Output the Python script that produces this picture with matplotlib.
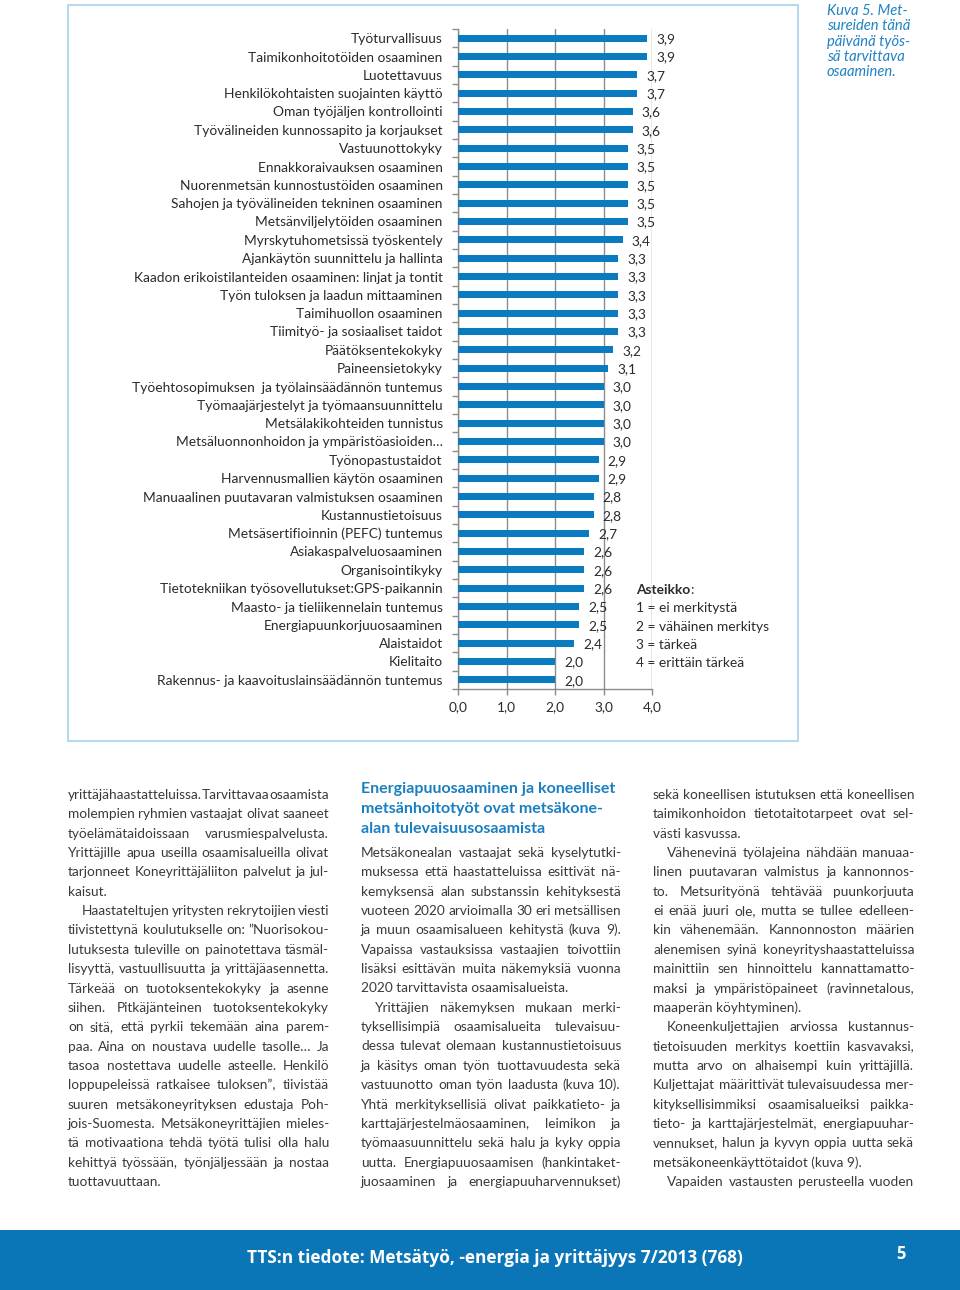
import matplotlib
matplotlib.use("Agg")
import matplotlib.pyplot as plt
from matplotlib.patches import Rectangle

# Chart data (Kuva 5)
skills = [
    "Työturvallisuus",
    "Taimikonhoitotöiden osaaminen",
    "Luotettavuus",
    "Henkilökohtaisten suojainten käyttö",
    "Oman työjäljen kontrollointi",
    "Työvälineiden kunnossapito ja korjaukset",
    "Vastuunottokyky",
    "Ennakkoraivauksen osaaminen",
    "Nuorenmetsän kunnostustöiden osaaminen",
    "Sahojen ja työvälineiden tekninen osaaminen",
    "Metsänviljelytöiden osaaminen",
    "Myrskytuhometsissä työskentely",
    "Ajankäytön suunnittelu ja hallinta",
    "Kaadon erikoistilanteiden osaaminen: linjat ja tontit",
    "Työn tuloksen ja laadun mittaaminen",
    "Taimihuollon osaaminen",
    "Tiimityö- ja sosiaaliset taidot",
    "Päätöksentekokyky",
    "Paineensietokyky",
    "Työehtosopimuksen  ja työlainsäädännön tuntemus",
    "Työmaajärjestelyt ja työmaansuunnittelu",
    "Metsälakikohteiden tunnistus",
    "Metsäluonnonhoidon ja ympäristöasioiden…",
    "Työnopastustaidot",
    "Harvennusmallien käytön osaaminen",
    "Manuaalinen puutavaran valmistuksen osaaminen",
    "Kustannustietoisuus",
    "Metsäsertifioinnin (PEFC) tuntemus",
    "Asiakaspalveluosaaminen",
    "Organisointikyky",
    "Tietotekniikan työsovellutukset:GPS-paikannin",
    "Maasto- ja tieliikennelain tuntemus",
    "Energiapuunkorjuuosaaminen",
    "Alaistaidot",
    "Kielitaito",
    "Rakennus- ja kaavoituslainsäädännön tuntemus",
]
values = [3.9, 3.9, 3.7, 3.7, 3.6, 3.6, 3.5, 3.5, 3.5, 3.5, 3.5, 3.4,
          3.3, 3.3, 3.3, 3.3, 3.3, 3.2, 3.1, 3.0, 3.0, 3.0, 3.0, 2.9,
          2.9, 2.8, 2.8, 2.7, 2.6, 2.6, 2.6, 2.5, 2.5, 2.4, 2.0, 2.0]
xticks = [0, 1, 2, 3, 4]

scale_title = "Asteikko"
scale_lines = ["1 = ei merkitystä", "2 = vähäinen merkitys", "3 = tärkeä", "4 = erittäin tärkeä"]
caption = "Kuva 5. Met-\nsureiden tänä\npäivänä työs-\nsä tarvittava\nosaaminen."

# Body text, paragraphs as lists of lines
col1 = [
    ["yrittäjähaastatteluissa. Tarvittavaa osaamista",
     "molempien ryhmien vastaajat olivat saaneet",
     "työelämätaidoissaan  varusmiespalvelusta.",
     "Yrittäjille apua useilla osaamisalueilla olivat",
     "tarjonneet Koneyrittäjäliiton palvelut ja jul-",
     "kaisut."],
    ["Haastateltujen yritysten rekrytoijien viesti",
     "tiivistettynä koulutukselle on: ”Nuorisokou-",
     "lutuksesta tuleville on painotettava täsmäl-",
     "lisyyttä, vastuullisuutta ja yrittäjäasennetta.",
     "Tärkeää on tuotoksentekokyky ja asenne",
     "siihen. Pitkäjänteinen tuotoksentekokyky",
     "on sitä, että pyrkii tekemään aina parem-",
     "paa. Aina on noustava uudelle tasolle… Ja",
     "tasoa nostettava uudelle asteelle. Henkilö",
     "loppupeleissä ratkaisee tuloksen”, tiivistää",
     "suuren metsäkoneyrityksen edustaja Poh-",
     "jois-Suomesta. Metsäkoneyrittäjien mieles-",
     "tä motivaationa tehdä työtä tulisi olla halu",
     "kehittyä työssään, työnjäljessään ja nostaa",
     "tuottavuuttaan."],
]
heading = ["Energiapuuosaaminen ja koneelliset",
           "metsänhoitotyöt ovat metsäkone-",
           "alan tulevaisuusosaamista"]
col2 = [
    ["Metsäkonealan vastaajat sekä kyselytutki-",
     "muksessa että haastatteluissa esittivät nä-",
     "kemyksensä alan substanssin kehityksestä",
     "vuoteen 2020 arvioimalla 30 eri metsällisen",
     "ja muun osaamisalueen kehitystä (kuva 9).",
     "Vapaissa vastauksissa vastaajien toivottiin",
     "lisäksi esittävän muita näkemyksiä vuonna",
     "2020 tarvittavista osaamisalueista."],
    ["Yrittäjien näkemyksen mukaan merki-",
     "tyksellisimpiä osaamisalueita tulevaisuu-",
     "dessa tulevat olemaan kustannustietoisuus",
     "ja käsitys oman työn tuottavuudesta sekä",
     "vastuunotto oman työn laadusta (kuva 10).",
     "Yhtä merkityksellisiä olivat paikkatieto- ja",
     "karttajärjestelmäosaaminen, leimikon ja",
     "työmaasuunnittelu sekä halu ja kyky oppia",
     "uutta. Energiapuuosaamisen (hankintaket-",
     "juosaaminen ja energiapuuharvennukset)"],
]
col3 = [
    ["sekä koneellisen istutuksen että koneellisen",
     "taimikonhoidon tietotaitotarpeet ovat sel-",
     "västi kasvussa."],
    ["Vähenevinä työlajeina nähdään manuaa-",
     "linen puutavaran valmistus ja kannonnos-",
     "to. Metsurityönä tehtävää puunkorjuuta",
     "ei enää juuri ole, mutta se tullee edelleen-",
     "kin vähenemään. Kannonnoston määrien",
     "alenemisen syinä koneyrityshaastatteluissa",
     "mainittiin sen hinnoittelu kannattamatto-",
     "maksi ja ympäristöpaineet (ravinnetalous,",
     "maaperän köyhtyminen)."],
    ["Koneenkuljettajien arviossa kustannus-",
     "tietoisuuden merkitys koettiin kasvavaksi,",
     "mutta arvo on alhaisempi kuin yrittäjillä.",
     "Kuljettajat määrittivät tulevaisuudessa mer-",
     "kityksellisimmiksi osaamisalueiksi paikka-",
     "tieto- ja karttajärjestelmät, energiapuuhar-",
     "vennukset, halun ja kyvyn oppia uutta sekä",
     "metsäkoneenkäyttötaidot (kuva 9)."],
    ["Vapaiden vastausten perusteella vuoden"],
]
footer = "TTS:n tiedote: Metsätyö, -energia ja yrittäjyys 7/2013 (768)"
page_no = "5"

W, H = 960, 1290
BLUE = "#0b7bc0"
GRAY = "#8c8c8c"
TXT = "#2b2b2b"
CHART_FONT = ["Lato", "DejaVu Sans"]
BODY_FONT = ["Lato", "DejaVu Sans"]


def fx(x):
    return x / W


def fy(y):
    return 1 - y / H


def main():
    fig = plt.figure(figsize=(W / 100, H / 100), dpi=100)
    fig.patch.set_facecolor("white")
    plt.rcParams["font.family"] = CHART_FONT

    # chart frame
    fig.add_artist(Rectangle((fx(68), fy(741)), (798 - 68) / W, (741 - 5) / H,
                             transform=fig.transFigure, fill=False,
                             edgecolor="#a9d2ec", lw=1.2))

    ax = fig.add_axes([fx(458), fy(689), (652 - 458) / W, (689 - 29) / H])
    pos = list(range(len(skills)))
    ax.barh(pos, values, height=0.38, color=BLUE, zorder=3)
    ax.set_xlim(0, 4)
    ax.set_ylim(len(skills) - 0.5, -0.5)
    ax.set_xticks(xticks)
    ax.set_xticklabels([("%.1f" % v).replace(".", ",") for v in xticks])
    ax.set_yticks(pos)
    ax.set_yticklabels(skills)
    ax.set_yticks([p + 0.5 for p in [-1] + pos], minor=True)
    ax.tick_params(axis="y", which="major", length=0, pad=11, labelsize=9.9,
                   labelcolor=TXT)
    ax.tick_params(axis="y", which="minor", length=4, width=1, color=GRAY)
    ax.tick_params(axis="x", length=4, width=1, color=GRAY, pad=5,
                   labelsize=9.9, labelcolor=TXT)
    ax.grid(axis="x", color=GRAY, lw=1, zorder=1)
    for s in ["top", "right"]:
        ax.spines[s].set_visible(False)
    for s in ["left", "bottom"]:
        ax.spines[s].set_color(GRAY)
        ax.spines[s].set_linewidth(1)
    ax.set_facecolor("none")

    for p, v in zip(pos, values):
        ax.annotate(("%.1f" % v).replace(".", ","), (v, p), xytext=(9, -1),
                    textcoords="offset pixels", va="center", ha="left",
                    fontsize=9.9, color=TXT, zorder=4)

    # scale legend
    t = fig.text(fx(636), fy(594), scale_title, fontsize=9.9, weight="bold",
                 color=TXT, va="baseline")
    fig.canvas.draw()
    r = fig.canvas.get_renderer()
    bb = t.get_window_extent(r)
    fig.text(bb.x1 / W, fy(594), ":", fontsize=9.9, color=TXT, va="baseline")
    for i, s in enumerate(scale_lines):
        fig.text(fx(636), fy(594 + 18.3 * (i + 1)), s, fontsize=9.9,
                 color=TXT, va="baseline")

    # caption
    fig.text(fx(827), fy(4), caption, fontsize=10.6, style="italic",
             color="#1f82c4", va="top", ha="left", linespacing=1.12)

    # body text
    def width_of(s, **kw):
        tt = fig.text(0, 0, s, **kw)
        w = tt.get_window_extent(r).width
        tt.remove()
        return w

    body_kw = dict(fontsize=9.8, color="#3a3a3a", family=BODY_FONT)

    def draw_column(paras, x0, x1, y0, justify_last=False):
        y = y0
        for pi, para in enumerate(paras):
            for li, line in enumerate(para):
                xs = x0 + 14 if (li == 0 and pi > 0) else x0
                last = li == len(para) - 1
                if last and not (justify_last and pi == len(paras) - 1):
                    fig.text(fx(xs), fy(y + 5), line, va="baseline", **body_kw)
                else:
                    words = line.split()
                    ws = [width_of(w, **body_kw) for w in words]
                    gap = (x1 - xs - sum(ws)) / max(len(words) - 1, 1)
                    x = xs
                    for w, wd in zip(words, ws):
                        fig.text(fx(x), fy(y + 5), w, va="baseline", **body_kw)
                        x += wd + gap
                y += 19.35

    draw_column(col1, 68, 329, 794)
    for i, h in enumerate(heading):
        fig.text(fx(361), fy(793 + 20 * i), h, fontsize=11.5, weight="bold",
                 color="#1a7fc1", va="baseline", family=["Lato", "DejaVu Sans"])
    draw_column(col2, 361, 621, 852, justify_last=True)
    draw_column(col3, 653, 914, 794, justify_last=True)

    # footer band
    fig.add_artist(Rectangle((0, 0), 1, (1290 - 1230) / H, transform=fig.transFigure,
                             facecolor="#0a76b8", edgecolor="none"))
    fig.text(fx(495), fy(1258), footer, fontsize=12.4, weight="bold",
             color="white", ha="center", va="center",
             family=["Open Sans", "DejaVu Sans"])
    fig.text(fx(901), fy(1254), page_no, fontsize=12, weight="bold",
             color="white", ha="center", va="center",
             family=["Open Sans", "DejaVu Sans"])

    fig.savefig("out.png", dpi=100)


if __name__ == "__main__":
    main()
